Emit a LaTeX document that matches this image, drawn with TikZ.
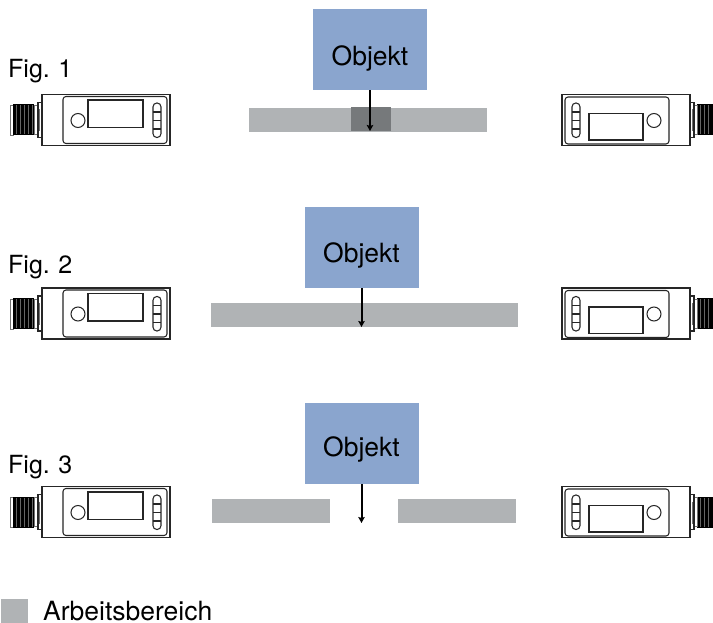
\documentclass[tikz,border=0pt]{standalone}
\usepackage{fontspec}
\setmainfont{TeX Gyre Heros}
\usetikzlibrary{arrows.meta}
\definecolor{objblue}{HTML}{8AA5CE}
\definecolor{bargray}{HTML}{B0B3B5}
\definecolor{bardark}{HTML}{76797B}
\newcommand{\objtext}[2]{\raisebox{-#2pt}[0pt][0pt]{Objekt}\hspace{#1pt}}
\newcommand{\figtext}[1]{Fig.\hspace{.34em}#1}
\tikzset{
  x=1pt,y=-1pt,
  objbox/.style={fill=objblue,draw=none,minimum width=114pt,minimum height=81pt,inner sep=0pt,font=\fontsize{26.5}{30}\selectfont},
  lab/.style={font=\fontsize{25}{28}\selectfont,inner sep=0pt,anchor=base west},
  leglab/.style={font=\fontsize{26.5}{30}\selectfont,inner sep=0pt,anchor=base west},
  barzone/.style={fill=bargray,draw=none},
  zoneover/.style={fill=bardark,draw=none},
  pointer/.style={draw=black,line width=2pt,-{Stealth[length=6pt,width=6.5pt,inset=1pt]}},
  sline/.style={draw=black!85,line width=1.05pt},
  sthin/.style={draw=black!55,line width=1pt},
  pics/sensorL/.style={code={
    \draw[sthin] (10,11) rectangle (13,41);
    \fill[black] (13,10) rectangle (34,41);
    \foreach \x in {16,20,...,32} {\draw[black!60,line width=.3pt] (\x,11) -- (\x,40);}
    \draw[sthin] (34,11) rectangle (38,40);
    \draw[sline] (38,8) rectangle (42,43);
    \draw[sthin] (39.5,15) -- (39.5,37);
    \draw[sline,fill=white] (42,0) rectangle (170,51);
    \draw[sline,rounded corners=3pt] (63,2) rectangle (167,49);
    \draw[sline] (88,5.5) rectangle (143,33);
    \draw[sline] (78,26) circle (7);
    \draw[sline,rounded corners=3.8pt] (153,8.5) rectangle (161,43);
    \draw[sline] (153,17.5) -- (161,17.5) (153,26) -- (161,26) (153,34.5) -- (161,34.5);
  }},
  pics/sensorR/.style={code={
    \fill[black] (697,10) rectangle (713,41);
    \foreach \x in {700,704,708} {\draw[black!60,line width=.3pt] (\x,11) -- (\x,40);}
    \draw[sthin] (694,11) rectangle (697,40);
    \draw[sline] (690,8) rectangle (694,43);
    \draw[sthin] (692,15) -- (692,37);
    \draw[sline,fill=white] (562,0) rectangle (690,51);
    \draw[sline,rounded corners=3pt] (565,2.5) rectangle (669,49.5);
    \draw[sline] (589,19) rectangle (643,45.5);
    \draw[sline] (654,26) circle (7);
    \draw[sline,rounded corners=3.8pt] (572,8.5) rectangle (580,43);
    \draw[sline] (572,17.5) -- (580,17.5) (572,26) -- (580,26) (572,34.5) -- (580,34.5);
  }}
}
\begin{document}
\begin{tikzpicture}
\useasboundingbox (0,0) rectangle (713,623);
% Row 1
\node[lab] (fig1) at (8,78) {\figtext{1}};
\pic at (0,94.5) {sensorL};
\pic at (0,94.5) {sensorR};
\fill[barzone] (249,108) rectangle (487,132);
\fill[zoneover] (351,107) rectangle (391,131);
\node[objbox] (obj1) at (370,49.5) {\objtext{10}{16.5}};
\coordinate (end1) at (370,131);
\draw[pointer] (obj1.south) -- (end1);
% Row 2
\node[lab] (fig2) at (8,273) {\figtext{2}};
\pic at (0,288) {sensorL};
\pic at (0,288) {sensorR};
\fill[barzone] (211,303) rectangle (518,327);
\node[objbox] (obj2) at (361.5,247.5) {\objtext{5}{14.5}};
\coordinate (end2) at (361.5,327);
\draw[pointer] (obj2.south) -- (end2);
% Row 3
\node[lab] (fig3) at (8,473) {\figtext{3}};
\pic at (0,486.5) {sensorL};
\pic at (0,486.5) {sensorR};
\fill[barzone] (212,499) rectangle (330,523);
\fill[barzone] (398,499) rectangle (516,523);
\node[objbox] (obj3) at (361.5,443.5) {\objtext{5}{12.5}};
\coordinate (end3) at (361.5,523);
\draw[pointer] (obj3.south) -- (end3);
% Legend
\fill[barzone] (1,599) rectangle (28,623);
\node[leglab] (legend) at (43,620) {Arbeitsbereich};
\end{tikzpicture}
\end{document}
